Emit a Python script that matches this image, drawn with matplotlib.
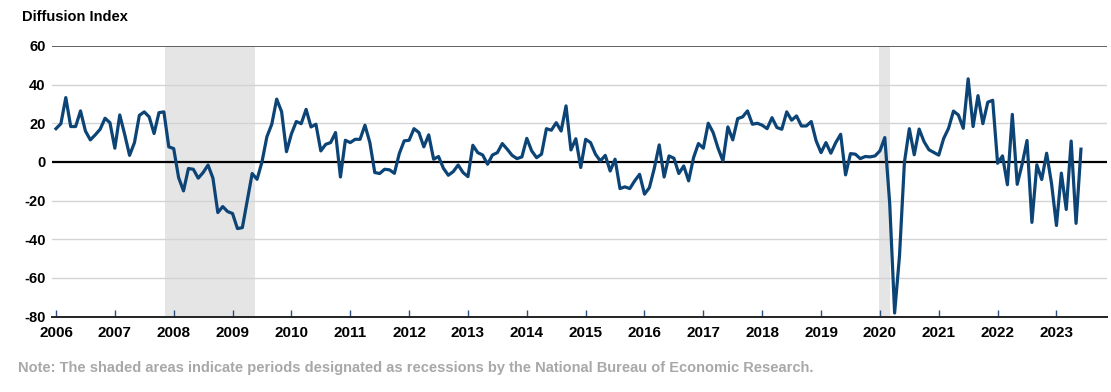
import matplotlib
matplotlib.use('Agg')
import matplotlib.pyplot as plt
import numpy as np
import pandas as pd

# Monthly diffusion index, Jan 2006 - Jun 2023 (one row per year)
index_values = [
    17.2, 19.8, 33.3, 18.3, 18.3, 26.4, 16.0, 11.4, 14.0, 16.9, 22.6, 20.3,    # 2006
    7.1, 24.3, 14.3, 3.4, 10.0, 24.1, 25.9, 23.3, 14.7, 25.5, 25.9, 7.8,        # 2007
    6.9, -8.1, -15.0, -3.4, -3.8, -8.4, -5.5, -1.6, -8.4, -26.2, -23.1, -25.7,  # 2008
    -26.7, -34.5, -34.0, -20.0, -6.0, -9.0, 0.0, 13.0, 19.5, 32.5, 26.0, 5.3,   # 2009
    14.5, 20.9, 19.8, 27.2, 18.1, 19.5, 5.7, 9.1, 10.0, 15.2, -7.8, 11.2,       # 2010
    10.0, 11.7, 11.7, 19.0, 10.0, -5.5, -6.0, -3.8, -4.1, -5.9, 4.3, 10.9,      # 2011
    11.2, 17.2, 15.2, 7.8, 14.0, 1.4, 2.8, -3.3, -6.9, -5.0, -1.6, -5.5,        # 2012
    -7.6, 8.6, 4.8, 3.6, -1.2, 3.6, 4.8, 9.5, 6.6, 3.4, 1.7, 2.6,               # 2013
    12.2, 5.7, 2.2, 4.0, 17.2, 16.4, 20.3, 16.0, 29.0, 6.2, 12.0, -2.9,         # 2014
    11.7, 10.0, 4.0, 0.5, 3.4, -4.7, 1.4, -13.8, -12.9, -13.8, -9.8, -6.4,      # 2015
    -16.7, -13.3, -3.3, 8.8, -7.8, 3.1, 1.9, -6.0, -2.1, -9.8, 2.2, 9.5,        # 2016
    7.1, 20.0, 15.2, 7.1, 0.5, 18.1, 11.4, 22.4, 23.3, 26.4, 19.5, 20.0,        # 2017
    19.0, 17.2, 22.9, 17.8, 16.9, 25.9, 21.6, 23.8, 18.6, 18.6, 20.9, 10.9,     # 2018
    4.8, 10.0, 4.5, 10.0, 14.3, -6.7, 4.3, 4.0, 1.7, 2.8, 2.6, 3.1,             # 2019
    5.7, 12.6, -21.5, -78.2, -48.5, -0.2, 17.2, 3.7, 17.0, 10.5, 6.3, 4.9,      # 2020
    3.5, 12.1, 17.4, 26.3, 24.3, 17.4, 43.0, 18.3, 34.3, 19.8, 30.9, 31.9,      # 2021
    -0.7, 3.1, -11.8, 24.6, -11.6, -1.2, 11.1, -31.3, -1.5, -9.1, 4.5, -11.2,   # 2022
    -32.9, -5.8, -24.6, 10.8, -31.8, 6.6,                                       # 2023
]
# shaded NBER recessions, as fractional years
recession_starts = [2007.85, 2019.99]
recession_ends = [2009.38, 2020.17]
year_labels = list(range(2006, 2024))
y_ticks = [-80, -60, -40, -20, 0, 20, 40, 60]

FONT = ['Liberation Sans', 'DejaVu Sans']
LINE_BLUE = '#0c4476'


def frac_year(d):
    return d.year + (d.month - 1) / 12.0


dates = pd.date_range('2006-01-01', periods=len(index_values), freq='MS')
x = np.array([frac_year(d) for d in dates])

plt.rcParams['font.family'] = FONT
fig = plt.figure(figsize=(11.11, 3.92), dpi=100)
ax = fig.add_axes([0.0468, 0.1926, 0.9496, 0.6901])

for s, e in zip(recession_starts, recession_ends):
    ax.axvspan(s, e, color='#e5e5e5', lw=0, zorder=0)

for yv in y_ticks[1:-1]:
    if yv != 0:
        ax.axhline(yv, color='#d3d3d3', lw=1.0, zorder=1)
ax.axhline(60, color='#606060', lw=1.4, zorder=1)
ax.axhline(0, color='black', lw=1.6, zorder=2)

ax.plot(x, index_values, color=LINE_BLUE, lw=2.3, zorder=3)

ax.set_xlim(2005.932, 2023.859)
ax.set_ylim(-80, 60)
ax.set_yticks(y_ticks)
ax.set_yticklabels([str(v) for v in y_ticks], fontsize=10.5,
                   fontweight='bold')
ax.set_xticks(year_labels)
ax.set_xticklabels([str(v) for v in year_labels], fontsize=11,
                   fontweight='bold')
ax.tick_params(axis='y', length=0, pad=4.5)
ax.tick_params(axis='x', direction='in', length=5, width=1,
               color='#2a4f80', pad=7)

for side in ['top', 'right', 'left']:
    ax.spines[side].set_visible(False)
ax.spines['bottom'].set_color('#222222')
ax.spines['bottom'].set_linewidth(1.4)

fig.text(22 / 1111, 1 - 17 / 392, 'Diffusion Index', fontsize=10.5,
         fontweight='bold', ha='left', va='center')
fig.text(18 / 1111, 1 - 368 / 392,
         'Note: The shaded areas indicate periods designated as recessions '
         'by the National Bureau of Economic Research.',
         fontsize=10.5, fontweight='bold', color='#a8a8a8', ha='left',
         va='center')

fig.savefig('out.png', dpi=100)
